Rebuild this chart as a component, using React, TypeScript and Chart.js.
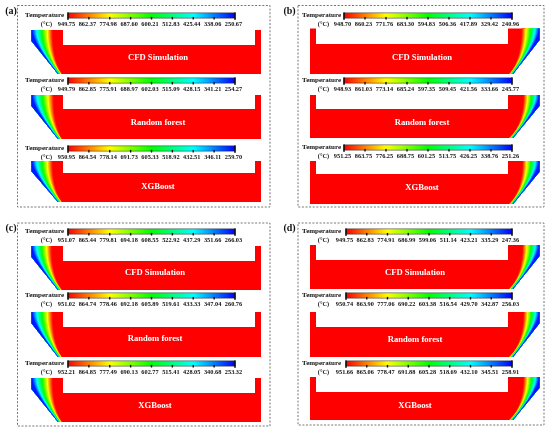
import { useEffect, useRef } from "react";
import { Chart, registerables } from "chart.js";

Chart.register(...registerables);

// ---------- data ----------
const panelLabels = ["(a)", "(b)", "(c)", "(d)"];
const methodNames = ["CFD Simulation", "Random forest", "XGBoost"];
const colorbarTitle = "Temperature";
const unitLabel = "(°C)";

const ticksA_CFD = [949.75, 862.37, 774.98, 687.6, 600.21, 512.83, 425.44, 338.06, 250.67];
const ticksA_RF = [949.79, 862.85, 775.91, 688.97, 602.03, 515.09, 428.15, 341.21, 254.27];
const ticksA_XGB = [950.95, 864.54, 778.14, 691.73, 605.33, 518.92, 432.51, 346.11, 259.7];
const ticksB_CFD = [948.7, 860.23, 771.76, 683.3, 594.83, 506.36, 417.89, 329.42, 240.96];
const ticksB_RF = [948.93, 861.03, 773.14, 685.24, 597.35, 509.45, 421.56, 333.66, 245.77];
const ticksB_XGB = [951.25, 863.75, 776.25, 688.75, 601.25, 513.75, 426.25, 338.76, 251.26];
const ticksC_CFD = [951.07, 865.44, 779.81, 694.18, 608.55, 522.92, 437.29, 351.66, 266.03];
const ticksC_RF = [951.02, 864.74, 778.46, 692.18, 605.89, 519.61, 433.33, 347.04, 260.76];
const ticksC_XGB = [952.21, 864.85, 777.49, 690.13, 602.77, 515.41, 428.05, 340.68, 253.32];
const ticksD_CFD = [949.75, 862.83, 774.91, 686.99, 599.06, 511.14, 423.21, 335.29, 247.36];
const ticksD_RF = [950.74, 863.9, 777.06, 690.22, 603.38, 516.54, 429.7, 342.87, 256.03];
const ticksD_XGB = [951.66, 865.06, 778.47, 691.88, 605.28, 518.69, 432.1, 345.51, 258.91];

// width of the cooled (non-red) layer at the top of the slag line, per sub-plot
const coolLayerA = [21, 22, 21];
const coolLayerB = [18, 16, 17];
const coolLayerC = [20, 21, 21];
const coolLayerD = [17, 16, 16];

// colour map stops (cold -> hot)
const cmapStops: [number, number, number][] = [
  [0, 0, 255],
  [0, 255, 255],
  [0, 255, 0],
  [255, 255, 0],
  [255, 0, 0],
];

// ---------- layout ----------
const panelTicks = [
  [ticksA_CFD, ticksA_RF, ticksA_XGB],
  [ticksB_CFD, ticksB_RF, ticksB_XGB],
  [ticksC_CFD, ticksC_RF, ticksC_XGB],
  [ticksD_CFD, ticksD_RF, ticksD_XGB],
];
const panelLayers = [coolLayerA, coolLayerB, coolLayerC, coolLayerD];

const LAYOUT = [
  {
    lab: [11, 11], box: [17.5, 5.5, 270, 207], mirror: false,
    tRight: 64, unitX: 46.5, barL: 68, barR: 235, titleX: 158,
    blocks: [
      { cb: 15.5, T: 30, N: 45, B: 74, ty: 58 },
      { cb: 80.5, T: 95, N: 109, B: 139, ty: 123 },
      { cb: 148.5, T: 161, N: 173, B: 202, ty: 187 },
    ],
  },
  {
    lab: [289.5, 11], box: [298, 5.5, 544, 207], mirror: true,
    tRight: 341, unitX: 323.5, barL: 344, barR: 512, titleX: 422,
    blocks: [
      { cb: 15.5, T: 28.5, N: 44, B: 74, ty: 58 },
      { cb: 80.5, T: 95, N: 109, B: 138, ty: 123 },
      { cb: 147.5, T: 161, N: 174, B: 204, ty: 188 },
    ],
  },
  {
    lab: [11, 228], box: [17.5, 223, 270, 426], mirror: false,
    tRight: 64, unitX: 46.5, barL: 68, barR: 235, titleX: 155,
    blocks: [
      { cb: 231.5, T: 246, N: 261, B: 290, ty: 273 },
      { cb: 295.5, T: 312, N: 327, B: 357, ty: 339 },
      { cb: 363.5, T: 378, N: 393, B: 422, ty: 406 },
    ],
  },
  {
    lab: [289.5, 228], box: [298, 223, 544, 425], mirror: true,
    tRight: 341, unitX: 323.5, barL: 346, barR: 512, titleX: 415,
    blocks: [
      { cb: 231.5, T: 245, N: 260, B: 289, ty: 273 },
      { cb: 295.5, T: 312, N: 327, B: 357, ty: 340 },
      { cb: 363.5, T: 377, N: 392, B: 420, ty: 406 },
    ],
  },
];

const SERIF = "'Liberation Serif', 'Times New Roman', serif";
const BANDS = 22;

function cmap(u: number): string {
  const t = Math.max(0, Math.min(1, u)) * (cmapStops.length - 1);
  const i = Math.min(cmapStops.length - 2, Math.floor(t));
  const f = t - i;
  const a = cmapStops[i];
  const b = cmapStops[i + 1];
  const c = a.map((v, k) => Math.round(v + (b[k] - v) * f));
  return `rgb(${c[0]},${c[1]},${c[2]})`;
}

const ladlePlugin = {
  id: "ladleFields",
  beforeDraw(chart: any) {
    const ctx = chart.ctx as CanvasRenderingContext2D;
    ctx.save();
    ctx.fillStyle = "#ffffff";
    ctx.fillRect(0, 0, chart.width, chart.height);
    ctx.restore();
  },
  afterDraw(chart: any) {
    const ctx = chart.ctx as CanvasRenderingContext2D;
    const xs = chart.scales.x;
    const ys = chart.scales.y;
    const Y = (v: number) => ys.getPixelForValue(v);

    LAYOUT.forEach((p, pi) => {
      const X = (v: number) => xs.getPixelForValue(p.mirror ? 571 - v : v);
      const XP = (v: number) => xs.getPixelForValue(v);

      // dashed frame
      ctx.save();
      ctx.strokeStyle = "#666";
      ctx.lineWidth = 0.9;
      ctx.setLineDash([2, 1.6]);
      const [bx0, by0, bx1, by1] = p.box;
      ctx.strokeRect(XP(bx0), Y(by0), XP(bx1) - XP(bx0), Y(by1) - Y(by0));
      ctx.restore();

      // panel label
      ctx.save();
      ctx.fillStyle = "#111";
      ctx.font = `bold 10px ${SERIF}`;
      ctx.textAlign = "center";
      ctx.textBaseline = "middle";
      ctx.fillText(panelLabels[pi], XP(p.lab[0]), Y(p.lab[1]));
      ctx.restore();

      p.blocks.forEach((b, bi) => {
        const ticks = panelTicks[pi][bi];
        const w = panelLayers[pi][bi];

        // ---- colour bar ----
        const x0 = XP(p.barL);
        const x1 = XP(p.barR);
        const yT = Y(b.cb - 2.6);
        const yB = Y(b.cb + 2.6);
        ctx.save();
        const g = ctx.createLinearGradient(x0, 0, x1, 0);
        for (let s = 0; s <= 20; s++) g.addColorStop(s / 20, cmap(1 - s / 20));
        ctx.fillStyle = g;
        ctx.fillRect(x0, yT, x1 - x0, yB - yT);
        ctx.strokeStyle = "#222";
        ctx.lineWidth = 0.5;
        ctx.strokeRect(x0, yT, x1 - x0, yB - yT);
        ctx.fillStyle = "#111";
        for (let i = 0; i < ticks.length; i++) {
          const tx = x0 + ((x1 - x0) * i) / (ticks.length - 1);
          if (i === 0 || i === ticks.length - 1) {
            ctx.fillRect(tx - 0.8, yT - 0.5, 1.6, yB - yT + 2.2);
          } else {
            ctx.fillRect(tx - 0.7, yB - 1.2, 1.4, 2.6);
          }
        }
        ctx.font = `bold 7px ${SERIF}`;
        ctx.textAlign = "right";
        ctx.textBaseline = "middle";
        ctx.fillText(colorbarTitle, XP(p.tRight), Y(b.cb));
        ctx.font = `bold 6.3px ${SERIF}`;
        ctx.textAlign = "center";
        const ly = Y(b.cb + 9);
        ctx.fillText(unitLabel, XP(p.unitX), ly);
        for (let i = 0; i < ticks.length; i++) {
          const tx = x0 + ((x1 - x0) * i) / (ticks.length - 1) - 1.5;
          ctx.fillText(ticks[i].toFixed(2), tx, ly);
        }
        ctx.restore();

        // ---- ladle section ----
        const knee = b.T + (b.B - b.T) * 0.25;
        ctx.save();
        ctx.beginPath();
        ctx.moveTo(X(31.5), Y(b.T));
        ctx.lineTo(X(63), Y(b.T));
        ctx.lineTo(X(63), Y(b.N));
        ctx.lineTo(X(255), Y(b.N));
        ctx.lineTo(X(255), Y(b.T));
        ctx.lineTo(X(261), Y(b.T));
        ctx.lineTo(X(261), Y(b.B));
        ctx.lineTo(X(58), Y(b.B));
        ctx.lineTo(X(31.5), Y(knee));
        ctx.closePath();
        ctx.fillStyle = cmap(1);
        ctx.fill();
        ctx.clip();
        for (let k = BANDS; k >= 1; k--) {
          const f = k / BANDS;
          const ax = 31.5 + f * w;
          const ex = 58 + f * 4;
          ctx.beginPath();
          ctx.moveTo(X(ax), Y(b.T - 3));
          ctx.lineTo(X(ax), Y(b.T));
          ctx.quadraticCurveTo(X(ax), Y(knee + f * (b.B - knee) * 0.6), X(ex), Y(b.B));
          ctx.lineTo(X(ex), Y(b.B + 3));
          ctx.lineTo(X(20), Y(b.B + 3));
          ctx.lineTo(X(20), Y(b.T - 3));
          ctx.closePath();
          ctx.fillStyle = cmap((k - 0.5) / BANDS);
          ctx.fill();
        }
        ctx.restore();

        // method title
        ctx.save();
        ctx.fillStyle = "#ffffff";
        ctx.font = `bold 8.6px ${SERIF}`;
        ctx.textAlign = "center";
        ctx.textBaseline = "middle";
        ctx.fillText(methodNames[bi], XP(p.titleX), Y(b.ty));
        ctx.restore();
      });
    });
  },
};

export default function App() {
  const ref = useRef<HTMLCanvasElement | null>(null);
  useEffect(() => {
    if (!ref.current) return;
    const chart = new Chart(ref.current, {
      type: "scatter",
      data: { datasets: [{ data: [], pointRadius: 0 }] },
      options: {
        responsive: false,
        animation: false,
        events: [],
        layout: { padding: 0 },
        plugins: { legend: { display: false }, tooltip: { enabled: false } },
        scales: {
          x: { type: "linear", min: 0, max: 550, display: false },
          y: { type: "linear", min: 0, max: 432, reverse: true, display: false },
        },
      },
      plugins: [ladlePlugin],
    });
    return () => chart.destroy();
  }, []);
  return (
    <canvas
      ref={ref}
      width={550}
      height={432}
      style={{ position: "absolute", left: 0, top: 0, width: 550, height: 432 }}
    />
  );
}
